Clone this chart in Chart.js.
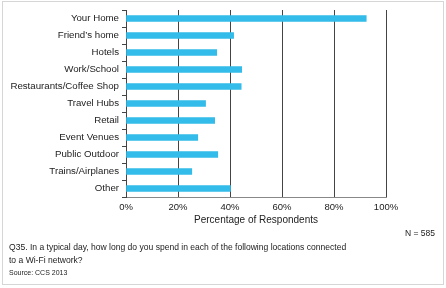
<!DOCTYPE html>
<html>
<head>
<meta charset="utf-8">
<script src="https://cdn.jsdelivr.net/npm/chart.js@4.4.0/dist/chart.umd.min.js"></script>
<style>
  body { margin: 0; background: #fff; font-family: "Liberation Sans", Arial, sans-serif; color: #222; }
  #wrap { position: relative; width: 446px; height: 288px; overflow: hidden; }
  #frame { position: absolute; left: 2px; top: 1px; width: 442px; height: 284px; box-sizing: border-box; border: 1px solid #d6d6d6; }
  canvas { position: absolute; left: 0; top: 0; }
  .note { position: absolute; white-space: nowrap; }
</style>
</head>
<body>
<div id="wrap">
  <div id="frame"></div>
  <canvas id="locChart" width="446" height="288"></canvas>
  <div class="note" style="right:11px; top:228px; font-size:8.5px;">N = 585</div>
  <div class="note" style="left:9px; top:241px; font-size:8.55px; line-height:13px;">Q35. In a typical day, how long do you spend in each of the following locations connected<br>to a Wi-Fi network?</div>
  <div class="note" style="left:9px; top:269px; font-size:7px;">Source: CCS 2013</div>
</div>
<script>
const locations = ['Your Home', 'Friend\u2019s home', 'Hotels', 'Work/School', 'Restaurants/Coffee Shop',
  'Travel Hubs', 'Retail', 'Event Venues', 'Public Outdoor', 'Trains/Airplanes', 'Other'];
const percentages = [92.4, 41.4, 34.9, 44.5, 44.3, 30.6, 34.1, 27.6, 35.3, 25.3, 40.2];
const xTicks = [0, 20, 40, 60, 80, 100];

Chart.defaults.font.family = '"Liberation Sans", Arial, sans-serif';
Chart.defaults.color = '#222';

const ctx = document.getElementById('locChart').getContext('2d');
new Chart(ctx, {
  type: 'bar',
  data: {
    labels: locations,
    datasets: [{
      data: percentages,
      backgroundColor: '#33bbe9',
      barThickness: 6
    }]
  },
  options: {
    indexAxis: 'y',
    responsive: false,
    animation: false,
    layout: { padding: { top: 10, right: 60, bottom: 62, left: 0 } },
    plugins: { legend: { display: false }, tooltip: { enabled: false } },
    scales: {
      x: {
        min: 0,
        max: 100,
        afterBuildTicks: (scale) => { scale.ticks = xTicks.map(v => ({ value: v })); },
        afterFit: (scale) => { scale.height = 29; },
        grid: { color: '#444', lineWidth: 1, drawTicks: false },
        border: { color: '#888' },
        ticks: { padding: 5, font: { size: 9.5 }, callback: (v) => v + '%' },
        title: { display: true, text: 'Percentage of Respondents', font: { size: 10 }, padding: 0 }
      },
      y: {
        afterFit: (scale) => { scale.width = 126; },
        grid: { offset: true, drawOnChartArea: false, tickLength: 4, color: '#444' },
        border: { color: '#444' },
        ticks: { padding: 3, font: { size: 9.7 } }
      }
    }
  }
});
</script>
</body>
</html>
